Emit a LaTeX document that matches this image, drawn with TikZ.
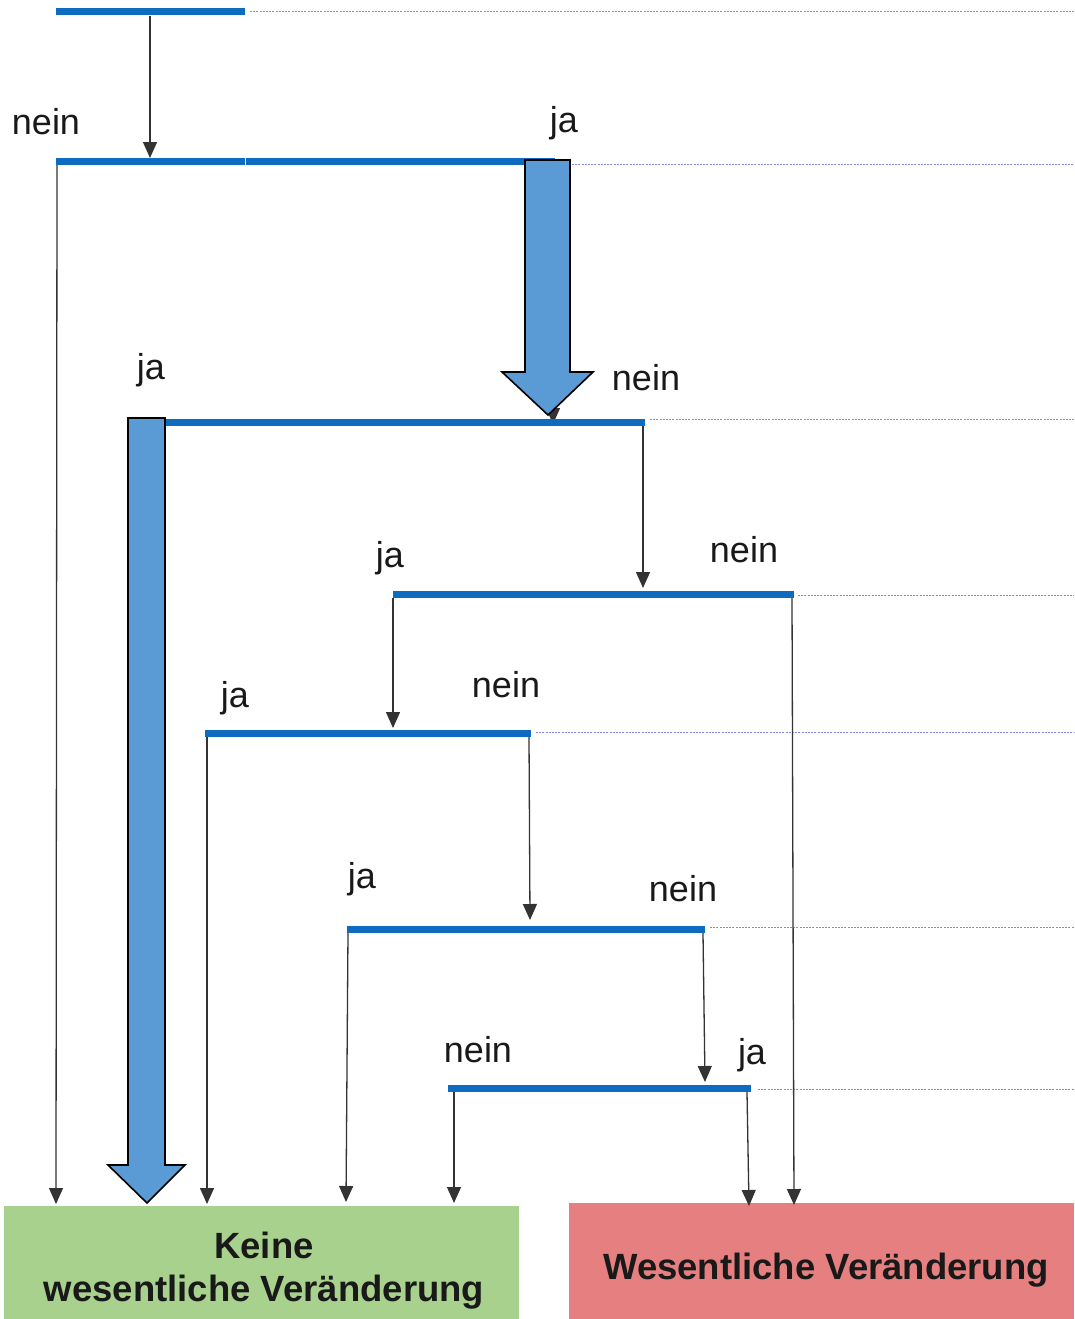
\documentclass[tikz,border=0pt]{standalone}
\usepackage{fontspec}
\setmainfont{Liberation Sans}
\usetikzlibrary{arrows.meta}
\definecolor{barblue}{RGB}{14,108,192}
\definecolor{bigblue}{RGB}{91,155,213}
\definecolor{dotline}{RGB}{135,135,225}
\definecolor{okgreen}{RGB}{169,209,142}
\definecolor{badred}{RGB}{230,128,128}
\begin{document}
\begin{tikzpicture}[x=1pt,y=-1pt,
  bar/.style={line width=7pt,draw=barblue},
  guide/.style={line width=1pt,draw=dotline,dash pattern=on 2pt off 1.2pt},
  flow/.style={line width=1.3pt,draw=black!80,-{Triangle[width=14pt,length=16pt]}},
  bigarrow/.style={fill=bigblue,draw=black,line width=1.6pt,line join=miter},
  lbl/.style={anchor=base,inner sep=0pt,font=\fontsize{36}{43}\selectfont,text=black!90},
  box/.style={inner sep=0pt},
  result/.style={inner sep=0pt,font=\bfseries\fontsize{36.5}{43}\selectfont,align=center,text=black!90}]
\useasboundingbox (0,0) rectangle (1074,1319);

% result boxes
\node[box,fill=okgreen,minimum width=515pt,minimum height=113pt] (keine) at (261.5,1262.5) {};
\node[box,fill=badred,minimum width=505pt,minimum height=116pt] (wesentlich) at (821.5,1261) {};
\node[result] (keinetxt) at (264,1271) {Keine\\wesentliche Veränderung};
\node[result] (wesentlichtxt) at (826,1270) {Wesentliche Veränderung};

% decision levels: left/right ends of each bar
\coordinate (b1l) at (56,12);   \coordinate (b1r) at (245,12);
\coordinate (b2l) at (56,161);  \coordinate (b2r) at (555,161);
\coordinate (b3l) at (165,422); \coordinate (b3r) at (645,422);
\coordinate (b4l) at (393,594); \coordinate (b4r) at (794,594);
\coordinate (b5l) at (205,733); \coordinate (b5r) at (531,733);
\coordinate (b6l) at (347,929); \coordinate (b6r) at (705,929);
\coordinate (b7l) at (448,1088);\coordinate (b7r) at (751,1088);

% dotted guides to the right margin
\draw[guide] (250,12) -- (1074,12);
\draw[guide] (572,164) -- (1074,164);
\draw[guide] (650,419) -- (1074,419);
\draw[guide] (798,595) -- (1074,595);
\draw[guide] (536,732) -- (1074,732);
\draw[guide] (710,927) -- (1074,927);
\draw[guide] (758,1089) -- (1074,1089);

% connectors
\coordinate (t1) at (150,16);   \coordinate (h1) at (150,158);
\draw[flow] (t1) -- (h1);
\coordinate (t2) at (57,165);   \coordinate (h2) at (56,1204);
\draw[flow] (t2) -- (h2);
\coordinate (t3) at (553,165);  \coordinate (h3) at (553,424);
\draw[flow] (t3) -- (h3);
\coordinate (t4) at (643,426);  \coordinate (h4) at (643,588);
\draw[flow] (t4) -- (h4);
\coordinate (t5) at (393,598);  \coordinate (h5) at (393,728);
\draw[flow] (t5) -- (h5);
\coordinate (t6) at (792,598);  \coordinate (h6) at (794,1205);
\draw[flow] (t6) -- (h6);
\coordinate (t7) at (207,737);  \coordinate (h7) at (207,1204);
\draw[flow] (t7) -- (h7);
\coordinate (t8) at (529,737);  \coordinate (h8) at (530,920);
\draw[flow] (t8) -- (h8);
\coordinate (t9) at (348,933);  \coordinate (h9) at (346,1202);
\draw[flow] (t9) -- (h9);
\coordinate (t10) at (703,933); \coordinate (h10) at (705,1082);
\draw[flow] (t10) -- (h10);
\coordinate (t11) at (454,1092);\coordinate (h11) at (454,1203);
\draw[flow] (t11) -- (h11);
\coordinate (t12) at (747,1092);\coordinate (h12) at (749,1206);
\draw[flow] (t12) -- (h12);

% bars
\draw[bar] (b1l) -- (b1r);
\draw[bar] (b2l) -- (245,161);
\draw[bar] (246,161) -- (b2r);
\draw[bar] (b3l) -- (b3r);
\draw[bar] (b4l) -- (b4r);
\draw[bar] (b5l) -- (b5r);
\draw[bar] (b6l) -- (b6r);
\draw[bar] (b7l) -- (b7r);

% highlighted path
\draw[bigarrow] (525,160) -- (570,160) -- (570,372) -- (593,372) -- (548,415)
  -- (502,372) -- (525,372) -- cycle;
\draw[bigarrow] (128,418) -- (165,418) -- (165,1165) -- (185,1165) -- (147,1203)
  -- (108,1165) -- (128,1165) -- cycle;

% branch labels
\node[lbl] (l1) at (46,135) {nein};
\node[lbl] (l2) at (564,132) {ja};
\node[lbl] (l3) at (151,379) {ja};
\node[lbl] (l4) at (646,390) {nein};
\node[lbl] (l5) at (390,567) {ja};
\node[lbl] (l6) at (744,562) {nein};
\node[lbl] (l7) at (235,707) {ja};
\node[lbl] (l8) at (506,697) {nein};
\node[lbl] (l9) at (362,888) {ja};
\node[lbl] (l10) at (683,901) {nein};
\node[lbl] (l11) at (478,1062) {nein};
\node[lbl] (l12) at (752,1064) {ja};
\end{tikzpicture}
\end{document}
